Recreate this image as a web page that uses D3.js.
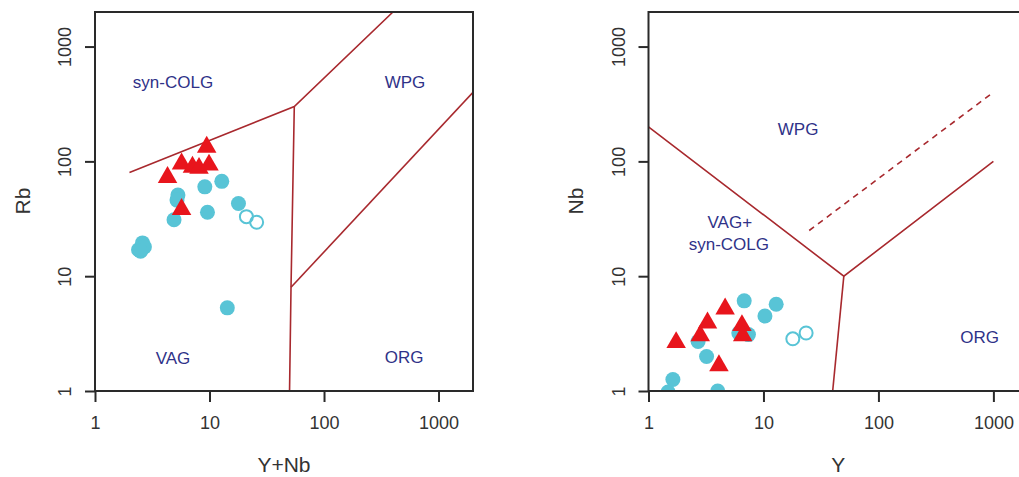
<!DOCTYPE html>
<html>
<head>
<meta charset="utf-8">
<script src="https://cdn.jsdelivr.net/npm/d3@7"></script>
<style>
    body { margin: 0; background: #fff; }
    svg text { font-family: "Liberation Sans", Arial, sans-serif; }
</style>
</head>
<body>
<div id="chart"></div>
<script>

// ---- data ----
let tickValues = [1, 10, 100, 1000];

// Rb vs Y+Nb
let rbTriangles = [[9.45, 136], [5.7, 97], [7.1, 91], [8.1, 89], [9.9, 95], [4.3, 74], [5.7, 39]];
let rbDots = [[9.1, 60], [12.8, 67], [5.3, 51], [5.2, 46], [9.6, 36], [4.9, 31], [17.9, 43],
    [2.4, 17], [2.6, 19.5], [2.7, 18], [2.5, 16.5], [14.3, 5.3]];
let rbOpen = [[21, 33], [25.8, 29.5]];
let rbLines = [
    [[2, 80], [55, 300], [400, 2000]],
    [[55, 300], [51.5, 8], [50, 1]],
    [[51.5, 8], [2000, 400]]
];
let rbLabels = [["syn-COLG", 4.8, 490], ["WPG", 510, 490], ["VAG", 4.8, 1.9], ["ORG", 500, 1.95]];

// Nb vs Y
let nbTriangles = [[1.74, 2.7], [3.26, 4.0], [2.82, 3.1], [4.64, 5.3], [6.5, 3.8], [6.6, 3.1], [4.1, 1.7]];
let nbDots = [[6.8, 6.1], [12.9, 5.7], [10.3, 4.5], [2.7, 2.7], [3.2, 2.0], [6.1, 3.2], [7.4, 3.1],
    [1.63, 1.26], [4.0, 1.0], [1.48, 0.98]];
let nbOpen = [[18, 2.85], [23.5, 3.2]];
let nbLines = [
    [[1, 200], [50, 10], [1000, 100]],
    [[50, 10], [40, 1]]
];
let nbDashed = [[25, 25], [1000, 400]];
let nbLabels = [["WPG", 20, 190], ["VAG+", 5.1, 29.5], ["syn-COLG", 5.0, 18.8], ["ORG", 760, 2.9]];

// ---- drawing ----
let width = 1019, height = 477;
let svg = d3.select("#chart").append("svg")
    .attr("width", width)
    .attr("height", height);

let lineColor = "#a8292e";
let labelColor = "#2f3288";
let cyan = "#58c4d6";
let red = "#e8151c";

function drawPanel(opt) {
    let x = d3.scaleLog().domain([1, 2000]).range([opt.left, opt.right]);
    let y = d3.scaleLog().domain([1, 2000]).range([391, 12]);

    let g = svg.append("g");

    let clipId = "clip-" + opt.id;
    g.append("clipPath").attr("id", clipId)
        .append("rect")
        .attr("x", opt.left).attr("y", 12)
        .attr("width", opt.right - opt.left).attr("height", 391 - 12);

    let plot = g.append("g").attr("clip-path", `url(#${clipId})`);

    let line = d3.line().x(d => x(d[0])).y(d => y(d[1]));

    // boundary lines
    plot.selectAll(".bound")
        .data(opt.lines)
        .enter().append("path")
        .attr("d", line)
        .attr("fill", "none")
        .attr("stroke", lineColor)
        .attr("stroke-width", 1.6);

    if (opt.dashed) {
        plot.append("path")
            .attr("d", line(opt.dashed))
            .attr("fill", "none")
            .attr("stroke", lineColor)
            .attr("stroke-width", 1.6)
            .attr("stroke-dasharray", "6,5");
    }

    // field labels
    plot.selectAll(".lab")
        .data(opt.labels)
        .enter().append("text")
        .attr("x", d => x(d[1]))
        .attr("y", d => y(d[2]))
        .attr("text-anchor", "middle")
        .attr("dominant-baseline", "central")
        .attr("font-size", 17)
        .attr("fill", labelColor)
        .text(d => d[0]);

    // points
    plot.selectAll(".dot")
        .data(opt.dots)
        .enter().append("circle")
        .attr("cx", d => x(d[0]))
        .attr("cy", d => y(d[1]))
        .attr("r", 7.5)
        .attr("fill", cyan);

    plot.selectAll(".open")
        .data(opt.open)
        .enter().append("circle")
        .attr("cx", d => x(d[0]))
        .attr("cy", d => y(d[1]))
        .attr("r", 6.5)
        .attr("fill", "none")
        .attr("stroke", cyan)
        .attr("stroke-width", 2);

    let tri = d3.symbol().type(d3.symbolTriangle).size(165);
    plot.selectAll(".tri")
        .data(opt.triangles)
        .enter().append("path")
        .attr("d", tri)
        .attr("transform", d => `translate(${x(d[0])},${y(d[1]) + 1})`)
        .attr("fill", red);

    // frame
    g.append("rect")
        .attr("x", opt.left).attr("y", 12)
        .attr("width", opt.right - opt.left).attr("height", 391 - 12)
        .attr("fill", "none")
        .attr("stroke", "#2a2a2a")
        .attr("stroke-width", 2);

    // axes
    let xAxis = d3.axisBottom(x).tickValues(tickValues).tickFormat(d3.format("d")).tickSize(11).tickPadding(14);
    let yAxis = d3.axisLeft(y).tickValues(tickValues).tickFormat(d3.format("d")).tickSize(10).tickPadding(16);

    let xg = g.append("g").attr("transform", "translate(0,391)").call(xAxis);
    let yg = g.append("g").attr("transform", `translate(${opt.left},0)`).call(yAxis);

    [xg, yg].forEach(a => {
        a.select(".domain").remove();
        a.selectAll("line").attr("stroke", "#2a2a2a").attr("stroke-width", 2);
        a.selectAll("text").attr("font-size", 18).attr("fill", "#333")
            .attr("font-family", "Liberation Sans, Arial, sans-serif");
    });

    yg.selectAll(".tick text")
        .attr("x", 0).attr("dy", 0)
        .attr("text-anchor", "middle")
        .attr("transform", `translate(${-30},0) rotate(-90)`)
        .attr("dominant-baseline", "central");

    // axis titles
    g.append("text")
        .attr("x", (opt.left + opt.right) / 2)
        .attr("y", 472)
        .attr("text-anchor", "middle")
        .attr("font-size", 21)
        .attr("fill", "#333")
        .text(opt.xTitle);

    g.append("text")
        .attr("transform", `translate(${opt.left - 73},201) rotate(-90)`)
        .attr("text-anchor", "middle")
        .attr("dominant-baseline", "central")
        .attr("font-size", 21)
        .attr("fill", "#333")
        .text(opt.yTitle);
}

drawPanel({
    id: "rb", left: 95, right: 473,
    lines: rbLines, labels: rbLabels,
    dots: rbDots, open: rbOpen, triangles: rbTriangles,
    xTitle: "Y+Nb", yTitle: "Rb"
});

drawPanel({
    id: "nb", left: 648.5, right: 1028,
    lines: nbLines, dashed: nbDashed, labels: nbLabels,
    dots: nbDots, open: nbOpen, triangles: nbTriangles,
    xTitle: "Y", yTitle: "Nb"
});

</script>
</body>
</html>
